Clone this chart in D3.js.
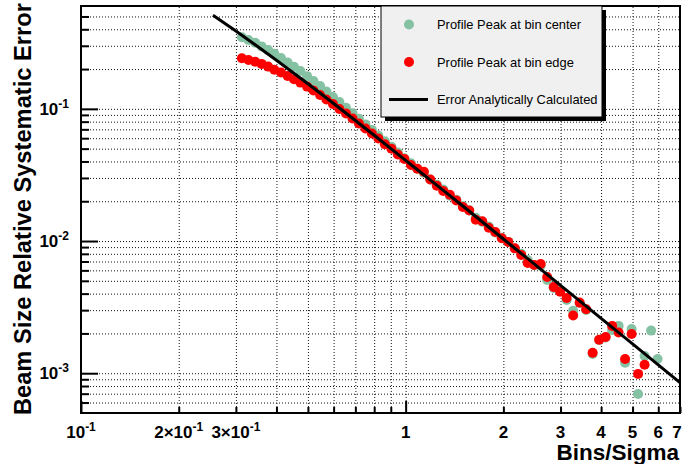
<!DOCTYPE html>
<html>
<head>
<meta charset="utf-8">
<script src="https://cdn.jsdelivr.net/npm/d3@7"></script>
<style>
  body { margin: 0; background: #fff; }
  svg { display: block; font-family: "Liberation Sans", Arial, Helvetica, sans-serif; }
</style>
</head>
<body>
<svg id="chart" width="683" height="464"></svg>
<script>
// Bins per sigma of each simulated profile
const binsPerSigma = [0.313,0.328,0.344,0.360,0.377,0.394,0.413,0.433,0.453,0.474,
  0.497,0.520,0.545,0.570,0.597,0.625,0.655,0.686,0.718,0.752,
  0.787,0.824,0.863,0.904,0.946,0.991,1.038,1.086,1.138,1.191,
  1.247,1.306,1.368,1.432,1.500,1.570,1.644,1.722,1.803,1.888,
  1.977,2.070,2.168,2.270,2.377,2.489,2.606,2.729,2.858,2.992,
  3.133,3.281,3.436,3.597,3.767,3.945,4.130,4.325,4.529,4.742,
  4.966,5.200,5.445,5.702,5.970];

// Relative systematic error, profile peak at the bin center
const errCenter = [0.348,0.332,0.3163,0.2969,0.2782,0.2615,0.2422,0.2241,0.2081,0.1931,
  0.1768,0.1625,0.1487,0.1354,0.1230,0.1127,0.1021,0.0926,0.0841,0.0763,
  0.0693,0.0628,0.0569,0.0516,0.0467,0.0423,0.0387,0.0353,0.0328,0.0292,
  0.0267,0.0245,0.0220,0.0205,0.0184,0.0171,0.0150,0.0140,0.0129,0.0116,
  0.0106,0.00985,0.00883,0.0080,0.00719,0.0066,0.0065,0.00508,0.00442,0.0042,
  0.00358,0.00297,0.0034,0.00301,0.00140,0.00178,0.00186,0.00212,0.00228,0.00120,
  0.00216,0.000697,0.00135,0.00210,0.00128];

// Relative systematic error, profile peak at the bin edge
const errEdge = [0.2414,0.2344,0.2272,0.2189,0.2087,0.1979,0.1882,0.1772,0.1674,0.1580,
  0.1473,0.1377,0.1271,0.1178,0.1089,0.0997,0.0924,0.0845,0.0776,0.0710,
  0.0650,0.0597,0.0540,0.0500,0.0452,0.0418,0.0376,0.0352,0.0334,0.0292,
  0.0262,0.0239,0.0224,0.0203,0.0181,0.0170,0.0145,0.0141,0.0126,0.0117,
  0.0105,0.00985,0.00880,0.00785,0.00683,0.00659,0.00671,0.00535,0.00449,0.00414,
  0.00371,0.00273,0.00342,0.00305,0.00143,0.00179,0.00188,0.00228,0.00203,0.00128,
  0.00198,0.000988,0.00116];

// Analytically calculated error curve
const analyticX = [0.255,0.3,0.35,0.4,0.5,0.6,0.7,0.8,1,1.2,1.5,2,3,4,5,6,7];
const analyticY = [0.5105,0.3878,0.2963,0.2332,0.1547,0.1097,0.0817,0.0631,0.0408,0.0285,
  0.0184,0.01036,0.00462,0.00260,0.001665,0.001157,0.000850];

// Axis ticks and labels
const xMajorTicks = [0.1, 1];
const xMinorTicks = [0.2,0.3,0.4,0.5,0.6,0.7,0.8,0.9,2,3,4,5,6,7];
const xLabelValues = [0.1,0.2,0.3,1,2,3,4,5,6,7];
const xTickLabels = ["10^-1","2×10^-1","3×10^-1","1","2","3","4","5","6","7"];
const yMajorTicks = [1e-3, 1e-2, 1e-1];
const yMinorTicks = [6e-4,7e-4,8e-4,9e-4,2e-3,3e-3,4e-3,5e-3,6e-3,7e-3,8e-3,9e-3,
  2e-2,3e-2,4e-2,5e-2,6e-2,7e-2,8e-2,9e-2,0.2,0.3,0.4,0.5];
const yLabelValues = [1e-1, 1e-2, 1e-3];
const yTickLabels = ["10^-1","10^-2","10^-3"];

const legendLabels = ["Profile Peak at bin center","Profile Peak at bin edge","Error Analytically Calculated"];
const colCenter = "#85c2a3", colEdge = "#ff0000";

const W = 683;
const L = 81, R = 680, T = 6, B = 413;
const x = d3.scaleLog().domain([0.1, 7.0]).range([L, R]);
const y = d3.scaleLog().domain([5e-4, 0.6]).range([B, T]);

const svg = d3.select("#chart");
svg.append("rect").attr("width", W).attr("height", 464).attr("fill", "#fff");

// dotted grid
const grid = svg.append("g");
grid.append("g").attr("transform", `translate(${L},0)`)
  .call(d3.axisLeft(y).tickValues(yMajorTicks.concat(yMinorTicks)).tickSize(-(R - L)).tickFormat(""))
  .call(g => g.select(".domain").remove());
grid.append("g").attr("transform", `translate(0,${B})`)
  .call(d3.axisBottom(x).tickValues(xMajorTicks.concat(xMinorTicks)).tickSize(-(B - T)).tickFormat(""))
  .call(g => g.select(".domain").remove());
grid.selectAll("line").attr("stroke", "#111").attr("stroke-width", 1).attr("stroke-dasharray", "1,2");

// markers
const r = 5;
svg.append("g").selectAll("circle").data(errCenter).join("circle")
  .attr("cx", (d, i) => x(binsPerSigma[i])).attr("cy", d => y(d)).attr("r", r).attr("fill", colCenter);
svg.append("g").selectAll("circle").data(errEdge).join("circle")
  .attr("cx", (d, i) => x(binsPerSigma[i])).attr("cy", d => y(d)).attr("r", r).attr("fill", colEdge);

// analytic curve
const line = d3.line().x(d => x(d[0])).y(d => y(d[1])).curve(d3.curveMonotoneX);
svg.append("path").datum(analyticX.map((v, i) => [v, analyticY[i]]))
  .attr("d", line).attr("fill", "none").attr("stroke", "#000").attr("stroke-width", 3);

// frame
svg.append("rect").attr("x", L).attr("y", T).attr("width", R - L).attr("height", B - T)
  .attr("fill", "none").attr("stroke", "#000").attr("stroke-width", 2);

// ticks
function ticks(axis, vals, size, tr) {
  svg.append("g").attr("transform", tr)
    .call(axis.tickValues(vals).tickSize(size).tickFormat(""))
    .call(g => g.select(".domain").remove())
    .selectAll("line").attr("stroke", "#000").attr("stroke-width", 2);
}
ticks(d3.axisLeft(y), yMajorTicks, -17, `translate(${L},0)`);
ticks(d3.axisLeft(y), yMinorTicks, -8, `translate(${L},0)`);
ticks(d3.axisBottom(x), xMajorTicks, -12, `translate(0,${B})`);
ticks(d3.axisBottom(x), xMinorTicks, -6, `translate(0,${B})`);

// tick labels with superscripts
function label(sel, txt) {
  const parts = txt.split("^");
  sel.append("tspan").text(parts[0]);
  if (parts[1]) sel.append("tspan").attr("dy", -7).attr("font-size", 12).text(parts[1]);
}
xLabelValues.forEach((v, i) => {
  const t = svg.append("text").attr("x", Math.min(x(v), W - 6)).attr("y", 438).attr("text-anchor", "middle")
    .attr("font-size", 17).attr("font-weight", "bold");
  label(t, xTickLabels[i]);
});
yLabelValues.forEach((v, i) => {
  const t = svg.append("text").attr("x", 69).attr("y", y(v) + 6).attr("text-anchor", "end")
    .attr("font-size", 17).attr("font-weight", "bold");
  label(t, yTickLabels[i]);
});

// axis titles
svg.append("text").attr("x", 679).attr("y", 460).attr("text-anchor", "end")
  .attr("font-size", 22.5).attr("font-weight", "bold").text("Bins/Sigma");
svg.append("text").attr("transform", "translate(30.5,3) rotate(-90)").attr("text-anchor", "end")
  .attr("font-size", 23.7).attr("font-weight", "bold").text("Beam Size Relative Systematic Error");

// legend
const lg = svg.append("g");
lg.append("rect").attr("x", 385).attr("y", 10).attr("width", 221).attr("height", 111).attr("fill", "#000");
lg.append("rect").attr("x", 381).attr("y", 6).attr("width", 221).attr("height", 111)
  .attr("fill", "#f0f0f0").attr("stroke", "#000").attr("stroke-width", 1);
const rows = [24.5, 62, 99.5];
lg.append("circle").attr("cx", 409).attr("cy", rows[0]).attr("r", r).attr("fill", colCenter);
lg.append("circle").attr("cx", 409).attr("cy", rows[1]).attr("r", r).attr("fill", colEdge);
lg.append("line").attr("x1", 389).attr("x2", 428).attr("y1", rows[2]).attr("y2", rows[2])
  .attr("stroke", "#000").attr("stroke-width", 3);
legendLabels.forEach((s, i) => {
  lg.append("text").attr("x", 437).attr("y", rows[i] + 4.5).attr("font-size", 12.9).text(s);
});
</script>
</body>
</html>
